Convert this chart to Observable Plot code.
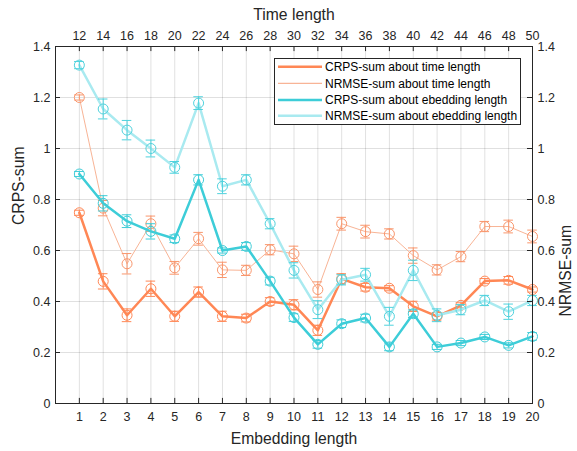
<!DOCTYPE html>
<html><head><meta charset="utf-8">
<script src="https://cdn.jsdelivr.net/npm/d3@7"></script>
<script src="https://cdn.jsdelivr.net/npm/@observablehq/plot@0.6"></script>
<style>
body{margin:0;background:#fff;}
#wrap{position:relative;width:577px;height:451px;font-family:"Liberation Sans",Arial,sans-serif;}
#legend{position:absolute;left:274px;top:58px;}
</style></head>
<body><div id="wrap"></div>
<script>
const embeddingLength = d3.range(1, 21);
const timeLength = [12,14,16,18,20,22,24,26,28,30,32,34,36,38,40,42,44,46,48,50];

const crpsTime  = [0.748,0.479,0.346,0.450,0.342,0.437,0.342,0.335,0.400,0.387,0.287,0.489,0.456,0.452,0.381,0.342,0.385,0.480,0.483,0.447];
const crpsTimeErr = [0.010,0.030,0.025,0.030,0.020,0.020,0.020,0.015,0.015,0.020,0.020,0.020,0.015,0.010,0.020,0.015,0.010,0.010,0.015,0.010];
const nrmseTime = [1.200,0.766,0.548,0.705,0.532,0.646,0.524,0.522,0.603,0.587,0.447,0.705,0.674,0.665,0.580,0.524,0.576,0.694,0.694,0.655];
const nrmseTimeErr = [0.010,0.030,0.040,0.030,0.025,0.025,0.030,0.020,0.020,0.030,0.030,0.025,0.025,0.020,0.030,0.020,0.020,0.020,0.025,0.025];
const crpsEmbed = [0.900,0.785,0.715,0.675,0.646,0.877,0.600,0.616,0.480,0.337,0.232,0.313,0.335,0.222,0.352,0.222,0.237,0.261,0.228,0.263];
const crpsEmbedErr = [0.010,0.030,0.025,0.030,0.015,0.020,0.010,0.015,0.015,0.015,0.015,0.015,0.015,0.015,0.015,0.010,0.010,0.010,0.010,0.015];
const nrmseEmbed = [1.327,1.155,1.072,1.000,0.926,1.178,0.852,0.877,0.705,0.522,0.368,0.485,0.505,0.342,0.522,0.346,0.368,0.404,0.360,0.404];
const nrmseEmbedErr = [0.014,0.039,0.038,0.033,0.023,0.025,0.029,0.020,0.020,0.030,0.035,0.020,0.025,0.035,0.040,0.025,0.020,0.020,0.030,0.020];

const seriesNames = ["CRPS-sum about time length","NRMSE-sum about time length","CRPS-sum about ebedding length","NRMSE-sum about ebedding length"];
const lineColors = ["#FF8755","#F8B496","#3DCDD8","#A9EAF0"];
const markColors = ["#FF8755","#F9966C","#3DCDD8","#4ED2DD"];
const lineWidths = [2.5,1,2.5,2.5];
const allVals = [crpsTime, nrmseTime, crpsEmbed, nrmseEmbed];
const allErrs = [crpsTimeErr, nrmseTimeErr, crpsEmbedErr, nrmseEmbedErr];

const font = '"Liberation Sans",Arial,sans-serif';
const ink = "#262626";

function seriesMarks(i) {
  const rows = embeddingLength.map((x, j) => ({x, v: allVals[i][j], e: allErrs[i][j]}));
  const c = markColors[i];
  return [
    Plot.line(rows, {x: "x", y: "v", stroke: lineColors[i], strokeWidth: lineWidths[i]}),
    Plot.ruleX(rows, {x: "x", y1: d => d.v - d.e, y2: d => d.v + d.e, stroke: c, strokeWidth: 1}),
    Plot.ruleY(rows, {y: d => d.v - d.e, x1: d => d.x - 0.2, x2: d => d.x + 0.2, stroke: c, strokeWidth: 1}),
    Plot.ruleY(rows, {y: d => d.v + d.e, x1: d => d.x - 0.2, x2: d => d.x + 0.2, stroke: c, strokeWidth: 1}),
    Plot.dot(rows, {x: "x", y: "v", r: 5, stroke: c, fill: "none", strokeWidth: 1})
  ];
}

const yTicks = d3.range(0, 1.41, 0.2).map(v => +v.toFixed(1));

const chart = Plot.plot({
  width: 577, height: 451,
  marginLeft: 55, marginRight: 45, marginTop: 46, marginBottom: 48,
  style: {fontFamily: font, fontSize: "12px", color: ink, background: "#fff"},
  x: {domain: [0, 20]},
  y: {domain: [0, 1.4]},
  marks: [
    Plot.gridX(embeddingLength, {stroke: "#000", strokeOpacity: 0.12}),
    Plot.gridY(yTicks, {stroke: "#000", strokeOpacity: 0.12}),
    ...seriesMarks(0), ...seriesMarks(1), ...seriesMarks(2), ...seriesMarks(3),
    Plot.frame({stroke: ink, strokeWidth: 1}),
    // inward ticks
    Plot.ruleX(embeddingLength, {x: d => d, y1: 0, y2: 0.02, stroke: ink}),
    Plot.ruleX(embeddingLength, {x: d => d, y1: 1.4, y2: 1.38, stroke: ink}),
    Plot.ruleY(yTicks, {y: d => d, x1: 0, x2: 0.21, stroke: ink}),
    Plot.ruleY(yTicks, {y: d => d, x1: 20, x2: 19.79, stroke: ink}),
    Plot.axisX(embeddingLength, {anchor: "bottom", tickSize: 0, tickPadding: 9, label: null, fontSize: 12.5, fill: ink}),
    Plot.axisX(embeddingLength, {anchor: "top", tickSize: 0, tickPadding: 7, label: null, fontSize: 12.5, fill: ink,
      tickFormat: d => timeLength[d - 1]}),
    Plot.axisY(yTicks, {anchor: "left", tickSize: 0, tickPadding: 5, label: null, fontSize: 12.5, fill: ink, tickFormat: d => String(d)}),
    Plot.axisY(yTicks, {anchor: "right", tickSize: 0, tickPadding: 5, label: null, fontSize: 12.5, fill: ink, tickFormat: d => String(d)}),
    Plot.text(["Embedding length"], {frameAnchor: "bottom", dy: 35, lineAnchor: "middle", fontSize: 15.7, fill: ink}),
    Plot.text(["Time length"], {frameAnchor: "top", dy: -32, lineAnchor: "middle", fontSize: 15.7, fill: ink}),
    Plot.text(["CRPS-sum"], {frameAnchor: "left", dx: -37, rotate: -90, lineAnchor: "middle", fontSize: 15.7, fill: ink}),
    Plot.text(["NRMSE-sum"], {frameAnchor: "right", dx: 33, rotate: -90, lineAnchor: "middle", fontSize: 15.7, fill: ink})
  ]
});

const wrap = document.getElementById("wrap");
wrap.appendChild(chart);

// legend overlay
const lg = d3.create("svg").attr("id", "legend").attr("width", 248).attr("height", 68);
lg.append("rect").attr("x", 0.5).attr("y", 0.5).attr("width", 246).attr("height", 66)
  .attr("fill", "#fff").attr("stroke", ink).attr("stroke-width", 1);
const rowY = [8.7, 25.3, 42, 57.7];
seriesNames.forEach((name, i) => {
  lg.append("line").attr("x1", 4).attr("x2", 48).attr("y1", rowY[i]).attr("y2", rowY[i])
    .attr("stroke", lineColors[i]).attr("stroke-width", lineWidths[i] === 1 ? 1.2 : 2.5);
  lg.append("text").attr("x", 51).attr("y", rowY[i]).attr("dy", "0.35em")
    .attr("font-family", font).attr("font-size", 12).attr("fill", "#000").text(name);
});
wrap.appendChild(lg.node());
</script>
</body></html>
